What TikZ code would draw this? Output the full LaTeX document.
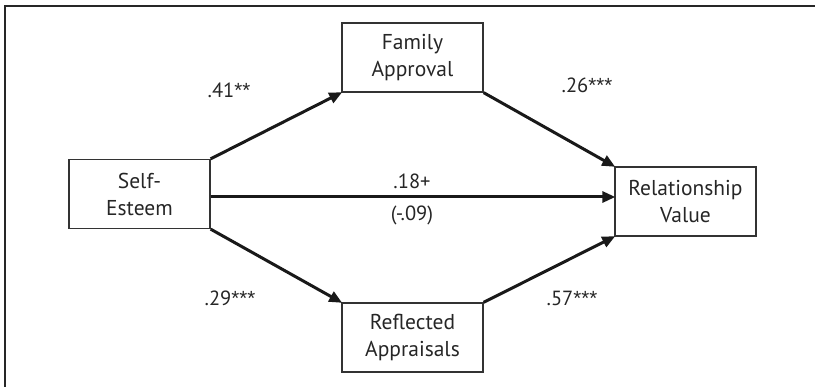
\documentclass[tikz,border=0pt]{standalone}
\usepackage{fontspec}
\setmainfont{PT Sans}
\newfontfamily\starfont{Liberation Sans}
\usetikzlibrary{arrows.meta}
\newcommand\stars[1]{{\starfont #1}}
\begin{document}
\begin{tikzpicture}[x=1pt,y=-1pt,
  varbox/.style={draw=black!80, line width=1.3pt, minimum width=141pt, minimum height=69pt,
    align=center, inner sep=0pt, font=\fontsize{21.5}{27}\selectfont, text=black!85},
  path/.style={line width=3pt, black!90, -{Triangle[length=13pt,width=11pt]}, shorten >=-1pt},
  coef/.style={font=\fontsize{20.5}{24}\selectfont, text=black!85, inner sep=0pt}]
  \useasboundingbox (0,0) rectangle (815,387);
  % outer frame
  \draw[line width=2pt, black!85] (5,387) -- (5,6) -- (815,6);
  % variables
  \node[varbox] (se) at (139.5,194) {Self-\\Esteem};
  \node[varbox] (fa) at (412.5,57.5) {Family\\Approval};
  \node[varbox] (ra) at (412.5,337.5) {Reflected\\Appraisals};
  \node[varbox] (rv) at (685.5,201.5) {Relationship\\Value};
  % paths
  \draw[path] (se.north east) -- (fa.south west);
  \draw[path] (fa.south east) -- (rv.north west);
  \draw[path] (se.east |- 0,197) coordinate (s) -- (rv.west |- 0,197) coordinate (t);
  \draw[path] (se.south east) -- (ra.north west);
  \draw[path] (ra.north east) -- (rv.south west);
  % coefficients
  \node[coef] (c1) at (229,90) {.41\stars{**}};
  \node[coef] (c2) at (587,85) {.26\stars{***}};
  \node[coef] (c3) at (412,181) {.18+};
  \node[coef] (c4) at (412,215) {(-.09)};
  \node[coef] (c5) at (230,298) {.29\stars{***}};
  \node[coef] (c6) at (572,298) {.57\stars{***}};
\end{tikzpicture}
\end{document}
